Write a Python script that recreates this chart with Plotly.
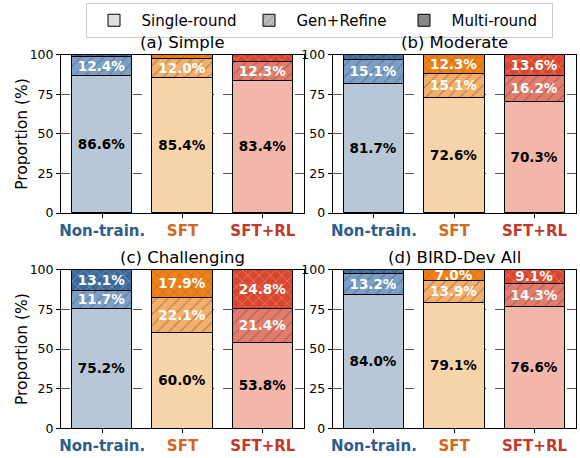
import plotly.graph_objects as go
from plotly.subplots import make_subplots

methods = ["Non-train.", "SFT", "SFT+RL"]
panels = ["(a) Simple", "(b) Moderate", "(c) Challenging", "(d) BIRD-Dev All"]
single = [[86.6, 85.4, 83.4], [81.7, 72.6, 70.3], [75.2, 60.0, 53.8], [84.0, 79.1, 76.6]]
refine = [[12.4, 12.0, 12.3], [15.1, 15.1, 16.2], [11.7, 22.1, 21.4], [13.2, 13.9, 14.3]]
multi = [[1.0, 2.6, 4.3], [3.2, 12.3, 13.6], [13.1, 17.9, 24.8], [2.8, 7.0, 9.1]]
yticks = [0, 25, 50, 75, 100]

col_single = ["#b7c7d8", "#f8d4aa", "#f3b6aa"]
col_refine = ["#7aa0c8", "#f5af69", "#e57c6b"]
col_multi = ["#3a6a9c", "#f08019", "#d9462d"]
tick_cols = ["#2d5d8c", "#d2691e", "#c0392b"]

FONT = "DejaVu Sans"
W, H = 580, 458

fig = make_subplots(rows=2, cols=2)

xpos = list(range(len(methods)))
hatch = "rgba(40,40,40,0.45)"

def lab(vals, thr=5):
    return [f"<b>{v:.1f}%</b>" if v >= thr else "" for v in vals]

for i in range(4):
    r, c = i // 2 + 1, i % 2 + 1
    common = dict(x=xpos, width=0.75, showlegend=False, textposition="inside",
                  insidetextanchor="middle", textangle=0, hoverinfo="skip",
                  marker_line=dict(color="black", width=1))
    fig.add_trace(go.Bar(y=single[i], text=lab(single[i]), marker_color=col_single,
                         insidetextfont=dict(color="black", size=13.5, family=FONT),
                         **common), row=r, col=c)
    fig.add_trace(go.Bar(y=refine[i], text=lab(refine[i]), marker_color=col_refine,
                         marker_pattern=dict(shape="/", fillmode="overlay", fgcolor=hatch, size=8, solidity=0.12),
                         insidetextfont=dict(color="white", size=13.5, family=FONT),
                         **common), row=r, col=c)
    fig.add_trace(go.Bar(y=multi[i], text=lab(multi[i]), marker_color=col_multi,
                         marker_pattern=dict(shape="x", fillmode="overlay", fgcolor=hatch, size=8, solidity=0.12),
                         insidetextfont=dict(color="white", size=13.5, family=FONT),
                         **common), row=r, col=c)

# legend entries
leg = [("Single-round", "#e0e0e0", ""), ("Gen+Refine", "#bdbdbd", "/"), ("Multi-round", "#8c8c8c", "x")]
for name, col, shp in leg:
    mk = dict(color=col, line=dict(color="black", width=1))
    if shp:
        mk["pattern"] = dict(shape=shp, fillmode="overlay", fgcolor="rgba(30,30,30,0.7)", size=6, solidity=0.15)
    fig.add_trace(go.Bar(x=[None], y=[None], name=name, marker=mk, showlegend=True), row=1, col=1)

xdom = [[61 / W, 304 / W], [332.7 / W, 575.7 / W]]
ydom = [[1 - 213 / H, 1 - 54.7 / H], [1 - 428.3 / H, 1 - 269.7 / H]]

ticktext = [f"<span style='color:{tc}'><b>{m}</b></span>" for m, tc in zip(methods, tick_cols)]

for i in range(4):
    r, c = i // 2, i % 2
    ax = "" if i == 0 else str(i + 1)
    fig.layout["xaxis" + ax].update(
        domain=xdom[c], range=[-0.5125, 2.5125], tickvals=xpos, ticktext=ticktext,
        showline=True, linecolor="black", linewidth=1, mirror=True,
        ticks="outside", ticklen=4, tickcolor="black", showgrid=False, zeroline=False,
        tickfont=dict(size=15, family=FONT), fixedrange=True, automargin=False)
    fig.layout["yaxis" + ax].update(
        domain=ydom[r], range=[0, 100], tickvals=yticks,
        showline=True, linecolor="black", linewidth=1, mirror=True,
        ticks="outside", ticklen=4, tickcolor="black",
        showgrid=True, gridcolor="#555555", griddash="dash", gridwidth=0.8, zeroline=False,
        tickfont=dict(size=12.5, family=FONT, color="black"), fixedrange=True, automargin=False)
    xc = (xdom[c][0] + xdom[c][1]) / 2
    fig.add_annotation(text=panels[i], x=xc, y=ydom[r][1] + 12 / H, xref="paper", yref="paper",
                       xanchor="center", yanchor="middle", showarrow=False,
                       font=dict(size=16.5, family=FONT, color="black"))

for r in range(2):
    fig.add_annotation(text="Proportion (%)", x=22 / W, y=(ydom[r][0] + ydom[r][1]) / 2,
                       xref="paper", yref="paper", textangle=-90, showarrow=False,
                       xanchor="center", yanchor="middle",
                       font=dict(size=15.5, family=FONT, color="black"))

fig.update_layout(
    width=W, height=H, barmode="stack", bargap=0,
    margin=dict(l=0, r=0, t=0, b=0, pad=0, autoexpand=False),
    paper_bgcolor="white", plot_bgcolor="white",
    font=dict(family=FONT, color="black"),
    uniformtext=dict(minsize=13, mode="show"),
    legend=dict(orientation="h", x=319 / W, xanchor="center", y=1 - 3 / H, yanchor="top",
                bordercolor="#cccccc", borderwidth=1, bgcolor="white", entrywidth=95,
                itemwidth=45,
                font=dict(size=15, family=FONT), traceorder="normal"),
)

fig.write_html("out.html", config={"displayModeBar": False},
               post_script="document.body.style.margin='0';document.body.style.overflow='hidden';")
